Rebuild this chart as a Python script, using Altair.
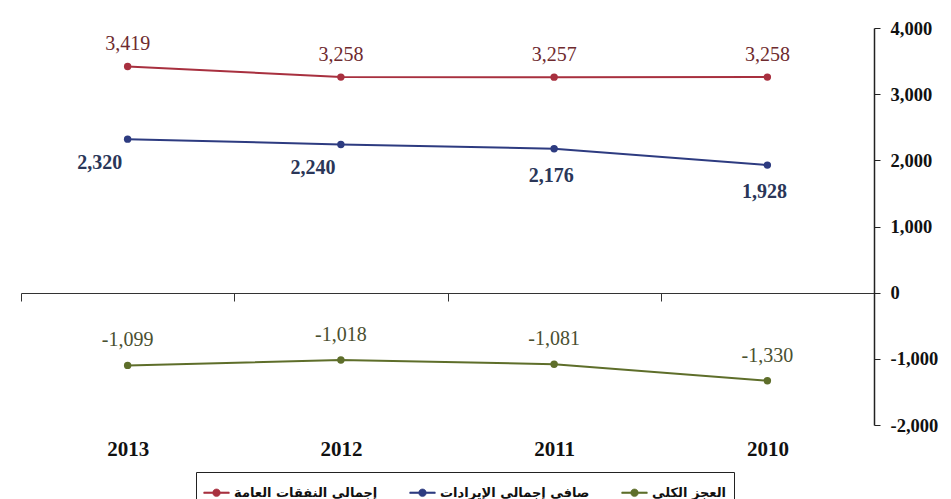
import altair as alt
import pandas as pd

years = ["2013", "2012", "2011", "2010"]
series_names = ["إجمالي النفقات العامة", "صافي إجمالي الإيرادات", "العجز الكلي"]
expenditure = [3419, 3258, 3257, 3258]
revenue = [2320, 2240, 2176, 1928]
deficit = [-1099, -1018, -1081, -1330]
y_ticks = [-2000, -1000, 0, 1000, 2000, 3000, 4000]

line_colors = ["#A8303F", "#2D3B80", "#5E6E2A"]
label_colors = ["#6E2A2E", "#2A3658", "#4A5030"]

rows = []
for name, vals in zip(series_names, [expenditure, revenue, deficit]):
    for y, v in zip(years, vals):
        rows.append({"year": y, "series": name, "value": v})
df = pd.DataFrame(rows)

x_enc = alt.X(
    "year:N",
    sort=years,
    scale=alt.Scale(type="band", domain=years, paddingInner=0, paddingOuter=0),
    axis=alt.Axis(
        title=None, orient="bottom", offset=-132, tickBand="extent",
        tickSize=8, tickColor="#333", domainColor="#333", domainWidth=1.2,
        labelPadding=137, labelFont="Liberation Serif", labelFontWeight="bold",
        labelFontSize=21, labelColor="#111", labelAngle=0,
    ),
)
y_enc = alt.Y(
    "value:Q",
    scale=alt.Scale(domain=[-2000, 4000], nice=False, zero=False),
    axis=alt.Axis(
        title=None, orient="right", values=y_ticks, grid=False,
        tickSize=6, tickColor="#222", domainColor="#222", domainWidth=1.5,
        labelFont="Liberation Serif", labelFontWeight="bold", labelFontSize=18.5,
        labelColor="#111", labelPadding=10,
        labelExpr="(datum.value < 0 ? '-' : '') + format(abs(datum.value), ',')",
    ),
)

sym_path = ("M-1,-0.06L-0.3,-0.06L-0.3,0.06L-1,0.06Z"
            "M0.3,-0.06L1,-0.06L1,0.06L0.3,0.06Z"
            "M0.3,0A0.3,0.3,0,1,1,-0.3,0A0.3,0.3,0,1,1,0.3,0Z")

color_enc = alt.Color(
    "series:N", sort=series_names,
    scale=alt.Scale(domain=series_names, range=line_colors),
    legend=alt.Legend(
        title=None, orient="none", legendX=175, legendY=444,
        direction="horizontal",
        symbolType=sym_path, symbolSize=650, symbolStrokeWidth=0.6,
        symbolOpacity=1, labelFont="DejaVu Sans", labelFontWeight="bold",
        labelFontSize=13, labelColor="#111", columnPadding=30,
        strokeColor="#222", fillColor="white", padding=7, labelOffset=4,
    ),
)

base = alt.Chart(df).encode(x=x_enc, y=y_enc)

lines = base.mark_line(strokeWidth=2).encode(color=color_enc)
points = base.mark_point(filled=True, size=55, opacity=1).encode(color=color_enc)

text_base = base.transform_calculate(
    label="(datum.value < 0 ? '-' : '') + format(abs(datum.value), ',')"
).encode(text="label:N")

fnt = dict(font="Liberation Serif", fontSize=20)

t_exp = text_base.transform_filter(alt.datum.series == series_names[0]).mark_text(
    dy=-22, color=label_colors[0], fontWeight="normal", **fnt)
t_rev_a = text_base.transform_filter(
    (alt.datum.series == series_names[1]) & ((alt.datum.year == "2013") | (alt.datum.year == "2012"))
).mark_text(dy=24, dx=-28, color=label_colors[1], fontWeight="bold", **fnt)
t_rev_b = text_base.transform_filter(
    (alt.datum.series == series_names[1]) & (alt.datum.year != "2013") & (alt.datum.year != "2012")
).mark_text(dy=27, dx=-3, color=label_colors[1], fontWeight="bold", **fnt)
t_def = text_base.transform_filter(alt.datum.series == series_names[2]).mark_text(
    dy=-25, color=label_colors[2], fontWeight="normal", **fnt)

chart = alt.layer(lines, points, t_exp, t_rev_a, t_rev_b, t_def).properties(
    width=853, height=397,
    padding={"left": 13, "top": 20, "right": 69, "bottom": 74},
    autosize=alt.AutoSizeParams(type="none"),
    background="white",
).configure_view(stroke=None)

chart.save("out.html", embed_options={"renderer": "svg", "actions": False})
